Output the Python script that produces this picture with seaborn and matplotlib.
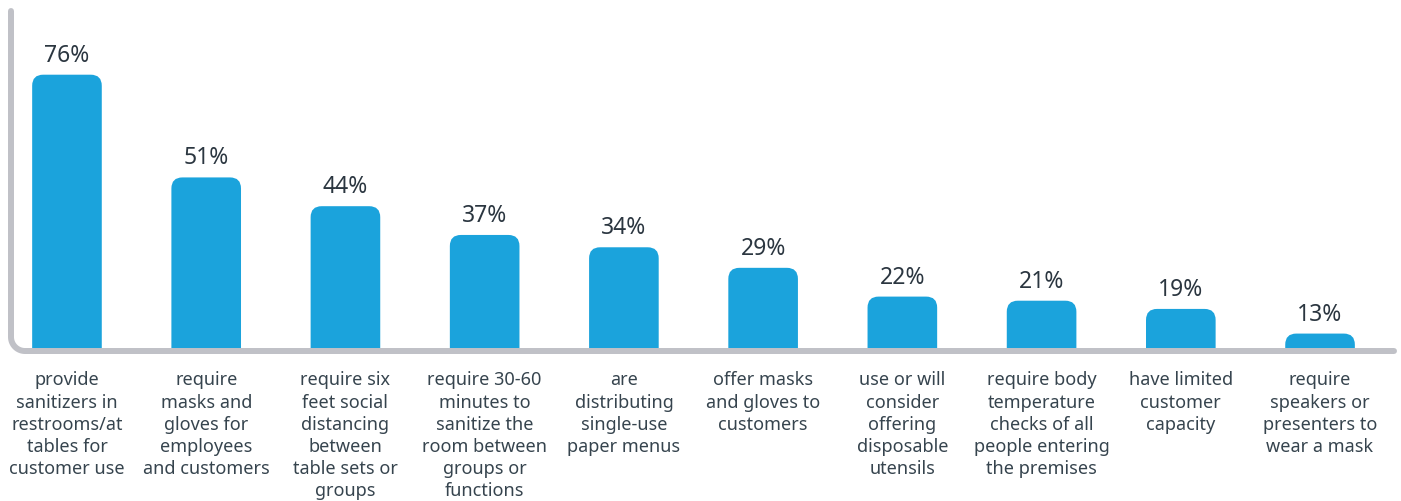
import numpy as np
import pandas as pd
import matplotlib
matplotlib.use("Agg")
import matplotlib.pyplot as plt
from matplotlib.patches import FancyBboxPatch
from matplotlib.lines import Line2D
import seaborn as sns

categories = [
    "provide\nsanitizers in\nrestrooms/at\ntables for\ncustomer use",
    "require\nmasks and\ngloves for\nemployees\nand customers",
    "require six\nfeet social\ndistancing\nbetween\ntable sets or\ngroups",
    "require 30-60\nminutes to\nsanitize the\nroom between\ngroups or\nfunctions",
    "are\ndistributing\nsingle-use\npaper menus",
    "offer masks\nand gloves to\ncustomers",
    "use or will\nconsider\noffering\ndisposable\nutensils",
    "require body\ntemperature\nchecks of all\npeople entering\nthe premises",
    "have limited\ncustomer\ncapacity",
    "require\nspeakers or\npresenters to\nwear a mask",
]
values = [76, 51, 44, 37, 34, 29, 22, 21, 19, 13]
value_labels = [f"{v}%" for v in values]

sns.set_theme(style="white")
plt.rcParams['font.family'] = ['Noto Sans', 'DejaVu Sans']

W, H = 1401, 502
fig = plt.figure(figsize=(W / 100, H / 100), dpi=100)
ax_left, ax_right, ax_top, ax_bot = 11, 1393, 12, 352
ax = fig.add_axes([ax_left / W, 1 - ax_bot / H, (ax_right - ax_left) / W, (ax_bot - ax_top) / H])

df = pd.DataFrame({"cat": categories, "val": values})
BLUE = "#1BA3DC"
sns.barplot(data=df, x="cat", y="val", color=BLUE, width=0.5, ax=ax, saturation=1)

xmin, xmax = -0.402, 9.524
ymin, ymax = 8.76, 91.5
ax.set_xlim(xmin, xmax)
ax.set_ylim(ymin, ymax)

px_x = (ax_right - ax_left) / (xmax - xmin)
px_y = (ax_bot - ax_top) / (ymax - ymin)
aspect = px_x / px_y
r_px = 11
for p, lab in zip(list(ax.patches), value_labels):
    x0, y0 = p.get_x(), p.get_y()
    w, h = p.get_width(), p.get_height()
    fb = FancyBboxPatch((x0, y0), w, h,
                        boxstyle=f"round,pad=0,rounding_size={r_px / px_x}",
                        mutation_aspect=aspect,
                        facecolor=BLUE, edgecolor="none", zorder=2)
    p.remove()
    ax.add_patch(fb)
    ax.text(x0 + w / 2, h + 14 / px_y, lab, ha="center", va="baseline",
            fontsize=16.5, color="#2B3640", fontweight="medium")

for s in ax.spines.values():
    s.set_visible(False)
ax.set_yticks([])
ax.set_xlabel("")
ax.set_ylabel("")
ax.tick_params(axis="x", length=0, pad=14)
ax.set_xticks(range(len(categories)))
ax.set_xticklabels(categories, fontsize=13, color="#36444E", linespacing=1.3)

lx, ly, rad, rx = 11, 352, 14, 1394
t = np.linspace(np.pi, 1.5 * np.pi, 20)
xs = np.concatenate([[lx, lx], lx + rad + rad * np.cos(t), [rx]])
ys = np.concatenate([[12, ly - rad], ly - rad - rad * np.sin(t), [ly]])
fig.add_artist(Line2D(xs / W, 1 - ys / H, transform=fig.transFigure,
                      color="#C0C1C7", lw=4.3, solid_capstyle="round",
                      solid_joinstyle="round", zorder=5))

fig.savefig("out.png", dpi=100)
